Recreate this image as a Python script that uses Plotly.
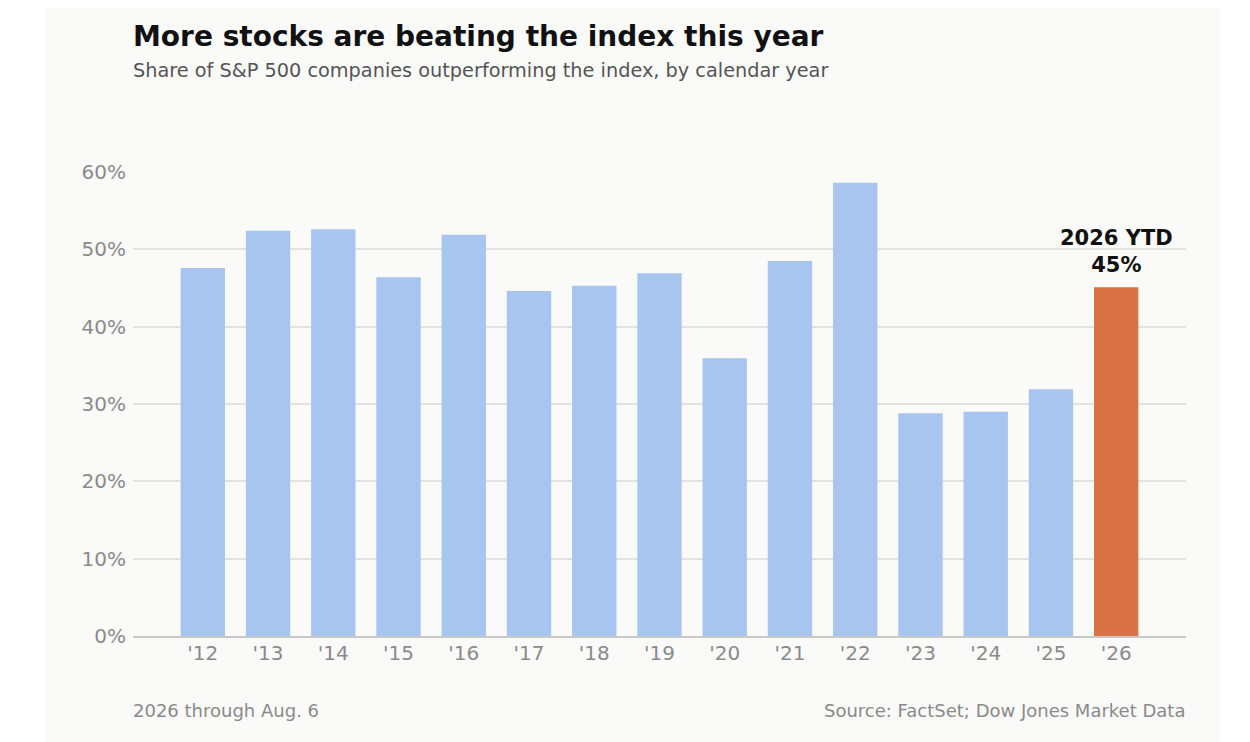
import plotly.graph_objects as go

years = ["'12", "'13", "'14", "'15", "'16", "'17", "'18", "'19", "'20", "'21", "'22", "'23", "'24", "'25", "'26"]
share = [47.6, 52.4, 52.6, 46.4, 51.9, 44.6, 45.3, 46.9, 35.9, 48.5, 58.6, 28.8, 29.0, 31.9, 45.1]
tick_vals = [0, 10, 20, 30, 40, 50, 60]
tick_text = ["0%", "10%", "20%", "30%", "40%", "50%", "60%"]

blue = "#a8c5ef"
orange = "#d97245"
colors = [blue] * (len(years) - 1) + [orange]

font = "DejaVu Sans"
grey = "#8a8a8a"

fig = go.Figure()
fig.add_trace(go.Bar(
    x=years,
    y=share,
    marker=dict(color=colors, line=dict(width=0)),
    width=0.68,
    hoverinfo="x+y",
))

# light card behind the chart
fig.add_shape(type="rect", xref="paper", yref="paper",
              x0=-0.0836, x1=1.0323, y0=-0.24, y1=1.37,
              fillcolor="#fafaf9", line=dict(width=0), layer="below")

# title and subtitle
fig.add_annotation(xref="paper", yref="paper", x=0, y=1.291, xanchor="left",
                   yanchor="middle", showarrow=False, xshift=-2,
                   text="<b>More stocks are beating the index this year</b>",
                   font=dict(family=font, size=28, color="#111111"))
fig.add_annotation(xref="paper", yref="paper", x=0, y=1.2177, xanchor="left",
                   yanchor="middle", showarrow=False, xshift=-2,
                   text="Share of S&P 500 companies outperforming the index, by calendar year",
                   font=dict(family=font, size=19.3, color="#555555"))

# label over the current year
fig.add_annotation(x=years[-1], y=share[-1], text="<b>2026 YTD<br>45%</b>",
                   showarrow=False, yanchor="bottom", yshift=8,
                   font=dict(family=font, size=21, color="#111111"))

# footer
fig.add_annotation(xref="paper", yref="paper", x=0, y=-0.1616, xanchor="left",
                   yanchor="middle", text="2026 through Aug. 6", showarrow=False,
                   xshift=-2, font=dict(family=font, size=18, color=grey))
fig.add_annotation(xref="paper", yref="paper", x=1, y=-0.1616, xanchor="right",
                   yanchor="middle", text="Source: FactSet; Dow Jones Market Data",
                   showarrow=False, xshift=1, font=dict(family=font, size=18, color=grey))

fig.update_layout(
    width=1242, height=734,
    margin=dict(l=125, r=64, t=164, b=106),
    paper_bgcolor="white",
    plot_bgcolor="rgba(0,0,0,0)",
    showlegend=False,
    xaxis=dict(
        type="category", range=[-1.07, 15.07],
        showgrid=False, ticks="", showline=True, linecolor="#c8c8c8", linewidth=2,
        tickfont=dict(family=font, size=20, color=grey), ticklabelstandoff=-2,
    ),
    yaxis=dict(
        range=[0, 60], tickvals=tick_vals, ticktext=tick_text,
        showgrid=True, gridcolor="#e2e2e2", gridwidth=1.5, zeroline=False,
        tickfont=dict(family=font, size=20, color=grey), ticklabelstandoff=6,
    ),
)

fig.write_html("out.html")
